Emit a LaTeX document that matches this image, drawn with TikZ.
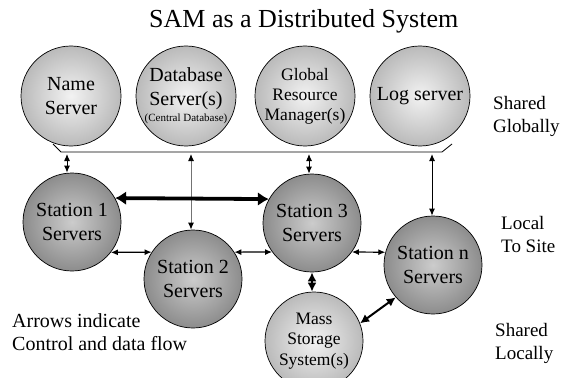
\documentclass[tikz,border=0pt]{standalone}
\usepackage{fontspec}
\setmainfont{Liberation Serif}
\usetikzlibrary{arrows.meta}
\begin{document}
\begin{tikzpicture}[x=1pt,y=-1pt,
  topc/.style={circle, draw=black, line width=0.7pt, minimum size=100pt, inner sep=0pt, align=center,
    inner color=black!5, outer color=black!27, font=\fontsize{20}{24}\selectfont},
  stc/.style={circle, draw=black, line width=0.7pt, minimum size=98pt, inner sep=0pt, align=center,
    inner color=black!20, outer color=black!45, font=\fontsize{20}{24}\selectfont},
  lbl/.style={align=left, anchor=north west, inner sep=0pt, font=\fontsize{19}{23}\selectfont},
  thinarr/.style={{Latex[length=7pt,width=6pt]}-{Latex[length=7pt,width=6pt]}, line width=1.2pt},
  thickarr/.style={{Latex[length=11pt,width=14pt]}-{Latex[length=11pt,width=14pt]}, line width=3.8pt},
  medarr/.style={{Latex[length=9pt,width=9pt]}-{Latex[length=9pt,width=9pt]}, line width=2pt},
]
\fill[white] (0,0) rectangle (564,377);
\useasboundingbox (0,0) rectangle (564,377);

% title
\node[anchor=base west, inner sep=0pt, font=\fontsize{26}{30}\selectfont] (title) at (149,28) {SAM as a Distributed System};

% global servers
\node[topc] (ns) at (71,96) {Name\\Server};
\node[topc] (db) at (186,96) {Database\\Server(s)\\[-8pt]{\fontsize{11}{12}\selectfont (Central Database)}};
\node[topc, font=\fontsize{17.5}{20}\selectfont] (grm) at (305,96) {Global\\Resource\\Manager(s)};
\node[topc] (log) at (420,96) {Log server};

% bus line
\coordinate (bl) at (53,144);
\coordinate (bl2) at (61,152);
\coordinate (br2) at (442,152);
\coordinate (br) at (452,144);
\draw[line width=0.8pt] (bl) -- (bl2) -- (br2) -- (br);

% stations
\node[stc] (s1) at (72,222) {Station 1\\Servers};
\node[stc] (s2) at (193,279) {Station 2\\Servers};
\node[stc] (s3) at (312,223) {Station 3\\Servers};
\node[stc] (sn) at (433,265) {Station n\\Servers};
\node[topc, minimum size=98pt, font=\fontsize{17.5}{20.5}\selectfont] (ms) at (314,341) {Mass\\Storage\\System(s)};

% taps from bus
\coordinate (g1) at (67,152);
\coordinate (g2) at (191,152);
\coordinate (g3) at (309,152);
\coordinate (g4) at (432,152);
\draw[thinarr, line width=1pt, shorten <=2pt] (g1) -- (g1 |- s1.north);
\draw[thinarr, line width=1pt, shorten <=2pt, draw=black!55, {Latex[length=7pt,width=6pt,color=black]}-{Latex[length=7pt,width=6pt,color=black]}] (g2) -- (g2 |- s2.north);
\draw[thinarr, line width=1pt, shorten <=2pt] (g3) -- (g3 |- s3.north);
\draw[thinarr, line width=1pt, shorten <=2pt] (g4) -- (g4 |- sn.north);

% station links
\draw[thickarr] (s1.29) -- (s3.151);
\draw[thinarr] (s1.-38) -- (s2.147);
\draw[thinarr] (s2.33) -- (s3.-144);
\draw[thinarr] (s3.-36) -- (sn.165);
\draw[medarr] (s3.south) -- (s3.south |- ms.north);
\draw[medarr] (ms.21) -- (sn.-139);

% side labels
\node[lbl] (lg) at (493,96) {Shared\\Globally};
\node[lbl] (ls) at (501,216) {Local\\To Site};
\node[lbl] (ll) at (495,323) {Shared\\Locally};
\node[lbl, font=\fontsize{20}{23.5}\selectfont] (note) at (12,313) {Arrows indicate\\Control and data flow};
\end{tikzpicture}
\end{document}
